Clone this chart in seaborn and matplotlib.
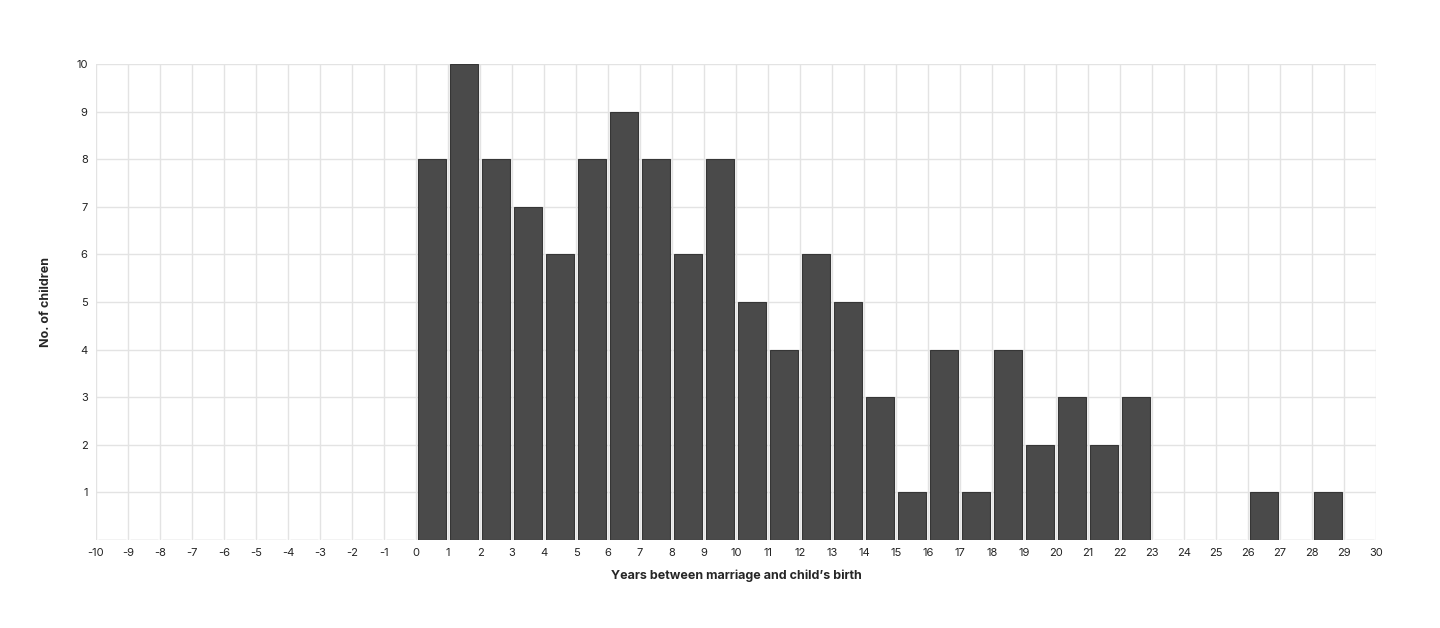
import numpy as np
import pandas as pd
import seaborn as sns
import matplotlib
matplotlib.use("Agg")
import matplotlib.pyplot as plt

# 数据：结婚到孩子出生相隔的年数 -> 孩子数量
years = list(range(0, 29))
children = [8, 10, 8, 7, 6, 8, 9, 8, 6, 8, 5, 4, 6, 5, 3, 1, 4, 1, 4, 2, 3, 2, 3, 0, 0, 0, 1, 0, 1]
x_ticks = list(range(-10, 31))
y_ticks = list(range(1, 11))

df = pd.DataFrame({"years": years, "children": children})

sns.set_style("white")
plt.rcParams['font.family'] = ['Inter', 'DejaVu Sans']
plt.rcParams['axes.unicode_minus'] = False

fig = plt.figure(figsize=(14.4, 6.28), dpi=100)
ax = fig.add_axes([96 / 1440, 1 - 540 / 628, 1280 / 1440, 476 / 628])

sns.histplot(data=df, x="years", weights="children", bins=x_ticks, shrink=0.86,
             color="#4a4a4a", edgecolor="#363636", linewidth=0.8, alpha=1, ax=ax, zorder=3)

ax.set_xlim(-10, 30)
ax.set_ylim(0, 10)
ax.set_xticks(x_ticks)
ax.set_yticks(y_ticks)
ax.tick_params(axis="both", length=0, labelsize=8, colors="#222222", pad=6)
ax.grid(True, color="#e3e3e3", linewidth=1, zorder=0)
ax.set_axisbelow(True)
for s in ax.spines.values():
    s.set_visible(False)

ax.set_xlabel("Years between marriage and child’s birth", fontsize=9, fontweight="bold", labelpad=8)
ax.set_ylabel("No. of children", fontsize=9, fontweight="bold", labelpad=12)
ax.yaxis.set_label_coords(-44 / 1280, 0.5)

plt.savefig("out.png", dpi=100)
